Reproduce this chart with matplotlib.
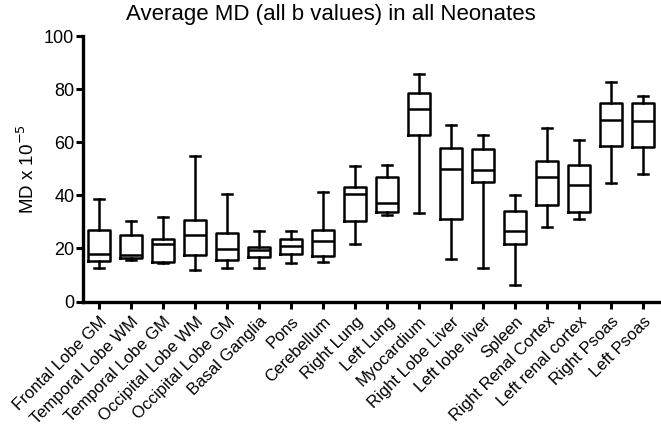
import matplotlib
matplotlib.use("Agg")
import matplotlib.pyplot as plt

plt.rcParams['font.family'] = ['Liberation Sans', 'DejaVu Sans']

regions = ["Frontal Lobe GM", "Temporal Lobe WM", "Temporal Lobe GM", "Occipital Lobe WM",
           "Occipital Lobe GM", "Basal Ganglia", "Pons", "Cerebellum", "Right Lung",
           "Left Lung", "Myocardium", "Right Lobe Liver", "Left lobe liver", "Spleen",
           "Right Renal Cortex", "Left renal cortex", "Right Psoas", "Left Psoas"]

# values (MD x 10^-5)
whisk_lo = [12.8, 15.6, 14.6, 11.9, 12.5, 12.5, 14.5, 15.0, 21.8,
            32.6, 33.3, 16.1, 12.8, 6.1, 28.0, 31.0, 44.6, 47.9]
q1 = [15.4, 16.6, 15.0, 17.5, 15.6, 16.9, 17.9, 17.1, 30.5,
      33.6, 62.9, 31.1, 45.0, 21.6, 36.3, 33.9, 58.5, 58.1]
med = [17.8, 17.5, 21.6, 25.0, 19.9, 19.6, 21.0, 23.0, 40.6,
       37.3, 72.7, 50.0, 49.6, 26.4, 46.9, 43.9, 68.4, 68.1]
q3 = [26.8, 25.0, 23.4, 30.6, 25.9, 20.6, 23.6, 27.1, 43.1,
      46.9, 78.7, 57.7, 57.5, 34.0, 52.8, 51.3, 74.8, 74.6]
whisk_hi = [38.5, 30.5, 31.9, 54.8, 40.6, 26.6, 26.6, 41.3, 51.1,
            51.6, 85.8, 66.6, 62.9, 40.0, 65.4, 61.0, 82.8, 77.6]

stats = []
for i in range(len(regions)):
    stats.append({"whislo": whisk_lo[i], "q1": q1[i], "med": med[i],
                  "q3": q3[i], "whishi": whisk_hi[i], "fliers": []})

fig = plt.figure(figsize=(6.61, 4.29), dpi=100)
ax = fig.add_axes([0.125, 0.297, 0.872, 0.619])

lw = 1.8
ax.bxp(stats, positions=range(len(regions)), widths=0.68, showfliers=False,
       boxprops=dict(color="black", linewidth=lw),
       medianprops=dict(color="black", linewidth=lw),
       whiskerprops=dict(color="black", linewidth=lw),
       capprops=dict(color="black", linewidth=lw),
       capwidths=0.3)

ax.set_xlim(-0.52, 17.5)
ax.set_ylim(0, 100)
ax.set_yticks([0, 20, 40, 60, 80, 100])
ax.set_xticks(range(len(regions)))
ax.set_xticklabels(regions, rotation=45, ha="right", rotation_mode="anchor", fontsize=12)

for s in ["top", "right"]:
    ax.spines[s].set_visible(False)
for s in ["left", "bottom"]:
    ax.spines[s].set_linewidth(2.4)
ax.tick_params(axis="both", width=2.2, length=5, pad=1)
ax.tick_params(axis="y", labelsize=13)
ax.tick_params(axis="x", pad=4)

ax.set_ylabel("MD x 10$^{-5}$", fontsize=13.5, labelpad=4)
fig.text(0.5, 0.967, "Average MD (all b values) in all Neonates", fontsize=16,
         ha="center", va="center")

fig.savefig("out.png", dpi=100)
